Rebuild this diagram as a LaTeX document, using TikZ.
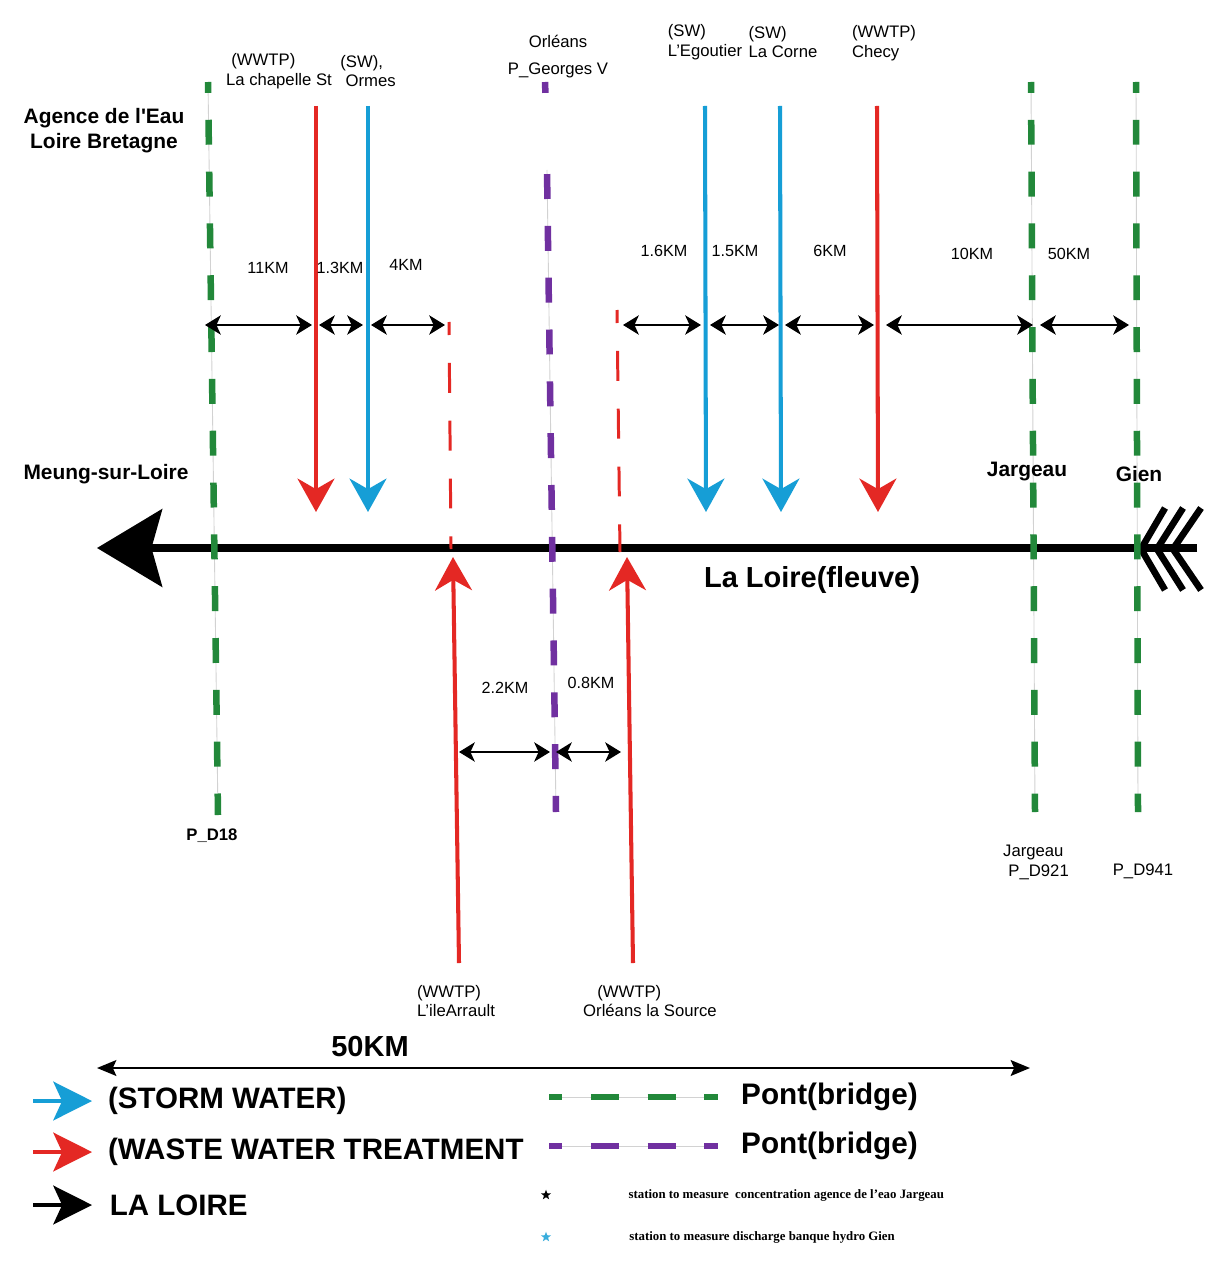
\documentclass[tikz,border=0pt]{standalone}
\usepackage{fontspec}
\setmainfont{Liberation Sans}[Ligatures=TeXOff]
\newfontfamily\stationfont{Liberation Serif}
\usetikzlibrary{positioning, arrows.meta, shapes.geometric}

\definecolor{bridgegreen}{RGB}{34,136,58}
\definecolor{bridgepurple}{RGB}{112,48,160}
\definecolor{wwtpred}{RGB}{228,40,36}
\definecolor{swblue}{RGB}{22,158,214}

\begin{document}
\begin{tikzpicture}[
    x=0.02cm, y=-0.02cm,
    small/.style={font=\fontsize{9.5}{11.3}\selectfont, inner sep=0pt, align=left},
    dist/.style={font=\fontsize{9.2}{11}\selectfont, inner sep=0pt},
    town/.style={font=\bfseries\fontsize{11.9}{14.2}\selectfont, inner sep=0pt, align=center},
    keytext/.style={font=\bfseries\fontsize{16.8}{19}\selectfont, inner sep=0pt},
    stationtext/.style={font=\stationfont\bfseries\fontsize{7.3}{8}\selectfont, inner sep=0pt},
    trace/.style={gray!35, line width=0.5pt},
    bridge/.style={line width=3.7pt, dash pattern=on 14.2pt off 15.3pt, dash phase=8pt},
    outfall/.style={wwtpred, line width=1.7pt, dash pattern=on 17pt off 15.9pt, dash phase=9.6pt},
    inflow/.style={line width=2.3pt, -{Stealth[length=19pt, width=21pt, inset=6pt]}},
    span/.style={line width=1.1pt, {Stealth[length=9pt, width=11pt, inset=2.5pt]}-{Stealth[length=9pt, width=11pt, inset=2.5pt]}},
    scalebar/.style={line width=1.2pt, {Stealth[length=11pt, width=9pt, inset=2pt]}-{Stealth[length=11pt, width=9pt, inset=2pt]}},
    river/.style={line width=4.3pt, -{Stealth[length=37pt, width=44pt, inset=6pt]}},
    keyarrow/.style={line width=2.3pt, -{Stealth[length=22pt, width=22pt, inset=5pt]}},
    station/.style={star, star points=5, star point ratio=2.4, inner sep=0pt, minimum size=6pt},
  ]
  \fill[white] (0,0) rectangle (1213,1267);
  \useasboundingbox (0,0) rectangle (1213,1267);

  % the river
  \coordinate (upstream) at (1197,548);
  \coordinate (mouth) at (97,548);
  \draw[river] (upstream) -- (mouth);
  \foreach \k in {0,1,2}
    \draw[line width=3.8pt] (1165+18*\k,508) -- (1141+16*\k,549) -- (1165+18*\k,590);

  % bridges
  \coordinate (d18top) at (208,82);    \coordinate (d18bot) at (218,815);
  \coordinate (d921top) at (1031,82);  \coordinate (d921bot) at (1035,812);
  \coordinate (d941top) at (1136,82);  \coordinate (d941bot) at (1138,812);
  \coordinate (georgestop) at (545,82); \coordinate (georgesgap) at (545.5,95);
  \coordinate (georgesmid) at (547,170); \coordinate (georgesbot) at (556,812);
  \draw[trace] (d18top) -- (d18bot);
  \draw[trace] (d921top) -- (d921bot);
  \draw[trace] (d941top) -- (d941bot);
  \draw[trace] (georgesmid) -- (georgesbot);
  \draw[bridge, bridgegreen] (d18top) -- (d18bot);
  \draw[bridge, bridgegreen] (d921top) -- (d921bot);
  \draw[bridge, bridgegreen] (d941top) -- (d941bot);
  \draw[bridge, bridgepurple] (georgestop) -- (georgesgap);
  \draw[bridge, bridgepurple, dash phase=27.2pt] (georgesmid) -- (georgesbot);

  % outfalls above the river
  \coordinate (arraultout) at (449,322);  \coordinate (arraultin) at (451,549);
  \coordinate (sourceout) at (617,310);   \coordinate (sourcein) at (620,552);
  \draw[outfall] (arraultout) -- (arraultin);
  \draw[outfall] (sourceout) -- (sourcein);

  % inflows from the north
  \coordinate (chapelletop) at (316,106); \coordinate (chapelletip) at (316,512);
  \coordinate (ormestop) at (368,106);    \coordinate (ormestip) at (368,512);
  \coordinate (egoutiertop) at (705,106); \coordinate (egoutiertip) at (706,512);
  \coordinate (cornetop) at (780,106);    \coordinate (cornetip) at (781,512);
  \coordinate (checytop) at (877,106);    \coordinate (checytip) at (878,512);
  \draw[inflow, wwtpred] (chapelletop) -- (chapelletip);
  \draw[inflow, swblue] (ormestop) -- (ormestip);
  \draw[inflow, swblue] (egoutiertop) -- (egoutiertip);
  \draw[inflow, swblue] (cornetop) -- (cornetip);
  \draw[inflow, wwtpred] (checytop) -- (checytip);

  % inflows from the south
  \coordinate (arraultbase) at (459,963); \coordinate (arraulttip) at (453,557);
  \coordinate (sourcebase) at (633,963);  \coordinate (sourcetip) at (627,557);
  \draw[inflow, wwtpred] (arraultbase) -- (arraulttip);
  \draw[inflow, wwtpred] (sourcebase) -- (sourcetip);

  % distances
  \coordinate (s1l) at (205,325);  \coordinate (s1r) at (312,325);
  \coordinate (s2l) at (319,325);  \coordinate (s2r) at (363,325);
  \coordinate (s3l) at (371,325);  \coordinate (s3r) at (445,325);
  \coordinate (s4l) at (623,325);  \coordinate (s4r) at (701,325);
  \coordinate (s5l) at (710,325);  \coordinate (s5r) at (779,325);
  \coordinate (s6l) at (785,325);  \coordinate (s6r) at (874,325);
  \coordinate (s7l) at (886,325);  \coordinate (s7r) at (1033,325);
  \coordinate (s8l) at (1040,325); \coordinate (s8r) at (1129,325);
  \coordinate (s9l) at (459,752);  \coordinate (s9r) at (550,752);
  \coordinate (s10l) at (556,752); \coordinate (s10r) at (621,752);
  \draw[span] (s1l) -- (s1r);
  \draw[span] (s2l) -- (s2r);
  \draw[span] (s3l) -- (s3r);
  \draw[span] (s4l) -- (s4r);
  \draw[span] (s5l) -- (s5r);
  \draw[span] (s6l) -- (s6r);
  \draw[span] (s7l) -- (s7r);
  \draw[span] (s8l) -- (s8r);
  \draw[span] (s9l) -- (s9r);
  \draw[span] (s10l) -- (s10r);
  \node[dist] (km11) at (268,268) {11KM};
  \node[dist] (km13) at (340,268) {1.3KM};
  \node[dist] (km4) at (406,265) {4KM};
  \node[dist] (km16) at (664,251) {1.6KM};
  \node[dist] (km15) at (735,251) {1.5KM};
  \node[dist] (km6) at (830,251) {6KM};
  \node[dist] (km10) at (972,254) {10KM};
  \node[dist] (km50) at (1069,254) {50KM};
  \node[dist] (km22) at (505,688) {2.2KM};
  \node[dist] (km08) at (591,683) {0.8KM};

  % places
  \node[town] (agence) at (104,131) {Agence de l'Eau\\Loire Bretagne};
  \node[town] (meung) at (106,474) {Meung-sur-Loire};
  \node[town] (jargeau) at (1027,472) {Jargeau};
  \node[town] (gien) at (1139,474) {Gien};
  \node[town, font=\bfseries\fontsize{9.5}{11}\selectfont] (pd18) at (212,836) {P\_D18};
  \node[font=\bfseries\fontsize{16.5}{19}\selectfont, inner sep=0pt] (loire) at (812,580) {La Loire(fleuve)};
  \node[small] (pd921) at (1036,862) {Jargeau\\\hspace*{3pt}P\_D921};
  \node[small] (pd941) at (1143,871) {P\_D941};

  % sources
  \node[small] (chapelle) at (279,71) {\hspace*{3pt}(WWTP)\\La chapelle St};
  \node[small] (ormes) at (368,71) {(SW),\\\hspace*{3pt}Ormes};
  \node[small, align=center, font=\fontsize{9.5}{15.3}\selectfont] (orleans) at (558,57) {Orléans\\P\_Georges V};
  \node[small] (egoutier) at (705,42) {(SW)\\L’Egoutier};
  \node[small] (corne) at (783,42) {(SW)\\La Corne};
  \node[small] (checy) at (884,43) {(WWTP)\\Checy};
  \node[small] (arrault) at (456,1001) {(WWTP)\\L’ileArrault};
  \node[small] (lasource) at (650,1001) {\hspace*{8pt}(WWTP)\\Orléans la Source};

  % scale
  \coordinate (scalel) at (97,1068); \coordinate (scaler) at (1030,1068);
  \draw[scalebar] (scalel) -- (scaler);
  \node[font=\bfseries\fontsize{16.5}{19}\selectfont, inner sep=0pt] (scalekm) at (370,1047) {50KM};

  % legend
  \coordinate (swtail) at (33,1101);  \coordinate (swtip) at (92,1101);
  \coordinate (wwtail) at (33,1152);  \coordinate (wwtip) at (92,1152);
  \coordinate (lrtail) at (33,1205);  \coordinate (lrtip) at (92,1205);
  \draw[keyarrow, swblue] (swtail) -- (swtip);
  \draw[keyarrow, wwtpred] (wwtail) -- (wwtip);
  \draw[keyarrow, black] (lrtail) -- (lrtip);
  \node[keytext, right=9pt of swtip] (keysw) {(STORM WATER)};
  \node[keytext, right=9pt of wwtip] (keyww) {(WASTE WATER TREATMENT};
  \node[keytext, right=10pt of lrtip] (keylr) {LA LOIRE};

  \coordinate (gkeya) at (549,1097); \coordinate (gkeyb) at (718,1097);
  \coordinate (pkeya) at (549,1146); \coordinate (pkeyb) at (718,1146);
  \draw[trace] (gkeya) -- (gkeyb);
  \draw[trace] (pkeya) -- (pkeyb);
  \draw[bridgegreen, line width=3.4pt, dash pattern=on 15.9pt off 16.4pt, dash phase=8.5pt] (gkeya) -- (gkeyb);
  \draw[bridgepurple, line width=3.4pt, dash pattern=on 15.9pt off 16.4pt, dash phase=8.5pt] (pkeya) -- (pkeyb);
  \node[keytext, font=\bfseries\fontsize{16.9}{19}\selectfont, right=13pt of gkeyb] (keygreen) {Pont(bridge)};
  \node[keytext, font=\bfseries\fontsize{16.9}{19}\selectfont, right=13pt of pkeyb] (keypurple) {Pont(bridge)};

  \node[station, fill=black] (blackstar) at (546,1195) {};
  \node[station, fill=swblue!85] (bluestar) at (546,1237) {};
  \node[stationtext, right=44.8pt of blackstar] (keyconc) {station to measure\ \ concentration agence de l’eao Jargeau};
  \node[stationtext, right=45.3pt of bluestar] (keydisch) {station to measure discharge banque hydro Gien};
\end{tikzpicture}
\end{document}
